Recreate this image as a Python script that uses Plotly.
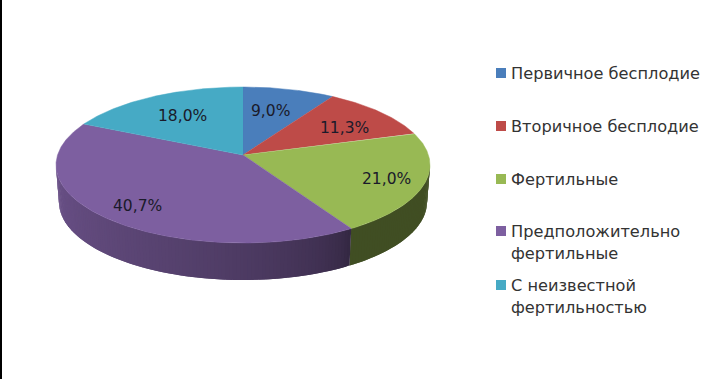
import math
import plotly.graph_objects as go

categories = [["Первичное бесплодие"], ["Вторичное бесплодие"], ["Фертильные"],
              ["Предположительно", "фертильные"], ["С неизвестной", "фертильностью"]]
shares = [9.0, 11.3, 21.0, 40.7, 18.0]
share_labels = ["9,0%", "11,3%", "21,0%", "40,7%", "18,0%"]
colors = [(74, 126, 187), (190, 75, 72), (152, 185, 84), (125, 95, 160), (70, 170, 197)]

label_xy = [(270, 111), (344, 128), (386, 179), (137, 206), (182, 116)]
legend_y = [73, 126, 179, 231, 285]

W, H = 722, 379
CX, CY, RX, RY = 243, 165, 187, 78
BRX, BCY = 184, 202
V0 = 10 / 78
FONT = "DejaVu Sans"
LINE_STEP = 22


def project(a_deg):
    """Pie angle -> ellipse parameter (u right, v up), with the chart's perspective."""
    a = math.radians(a_deg)
    d = 1 + V0 * math.cos(a)
    return math.sin(a) * math.sqrt(1 - V0 ** 2) / d, (math.cos(a) + V0) / d


def rgb(c, k=1.0):
    return "rgb(%d,%d,%d)" % tuple(round(v * k) for v in c)


def shade(u, v):
    theta = math.degrees(math.atan2(u, v)) % 360
    t = max(0.0, min(1.0, (theta - 145.5) / 124.5))
    return 0.42 + 0.43 * t ** 0.6


fig = go.Figure()
total = sum(shares)

# side wall, front half only: each strip overlaps the next one to hide seams
start = 0.0
for share, col in zip(shares, colors):
    end = start + share / total * 360
    n = max(2, int(end - start))
    for i in range(n):
        a0 = start + (end - start) * i / n
        a1 = start + (end - start) * min(i + 2, n) / n
        u0, v0 = project(a0)
        u1, v1 = project(a1)
        if (v0 + v1) / 2 < 0.02:
            k = shade(u0, v0)
            fig.add_trace(go.Scatter(
                x=[CX + RX * u0, CX + RX * u1, CX + BRX * u1, CX + BRX * u0],
                y=[CY - RY * v0, CY - RY * v1, BCY - RY * v1, BCY - RY * v0],
                fill="toself", mode="none", fillcolor=rgb(col, k),
                hoverinfo="skip", showlegend=False))
    start = end

# top face
apex_y = CY - RY * V0
start = 0.0
for share, col, name in zip(shares, colors, categories):
    end = start + share / total * 360
    n = max(8, int((end - start) * 2))
    xs, ys = [CX], [apex_y]
    for i in range(n + 1):
        u, v = project(start + (end - start) * i / n)
        xs.append(CX + RX * u)
        ys.append(CY - RY * v)
    fig.add_trace(go.Scatter(
        x=xs, y=ys, fill="toself", mode="lines",
        line=dict(width=0.5, color=rgb(col)), fillcolor=rgb(col),
        name=" ".join(name), hoverinfo="skip", showlegend=False))
    start = end

# legend keys and text
for lines, col, y in zip(categories, colors, legend_y):
    fig.add_trace(go.Scatter(
        x=[501], y=[y], mode="markers",
        marker=dict(symbol="square", size=10, color=rgb(col)),
        hoverinfo="skip", showlegend=False))
    for j, line in enumerate(lines):
        fig.add_annotation(x=509, y=y + j * LINE_STEP, text=line, showarrow=False,
                           xanchor="left", yanchor="middle", align="left",
                           font=dict(family=FONT, size=16.2, color="#333333"))

for text, (x, y) in zip(share_labels, label_xy):
    fig.add_annotation(x=x, y=y, text=text, showarrow=False,
                       font=dict(family=FONT, size=15.5, color="#1a1a2a"))

fig.update_layout(
    width=W, height=H, margin=dict(l=0, r=0, t=0, b=0),
    paper_bgcolor="white", plot_bgcolor="white", showlegend=False,
    xaxis=dict(range=[0, W], visible=False, fixedrange=True),
    yaxis=dict(range=[H, 0], visible=False, fixedrange=True),
    shapes=[dict(type="rect", xref="paper", yref="paper", x0=0, x1=2 / W, y0=0, y1=1,
                 fillcolor="black", line_width=0)],
)
fig.write_html("out.html", config={"displayModeBar": False},
               post_script="document.body.style.margin='0';")
